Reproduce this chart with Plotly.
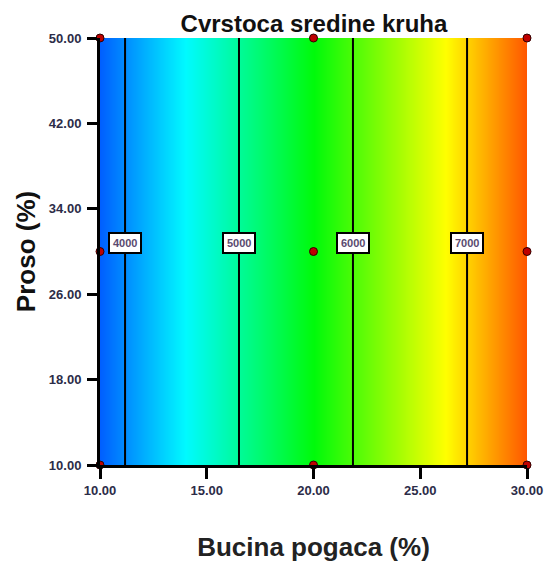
import numpy as np
import plotly.graph_objects as go

# Response surface: crumb firmness vs. pumpkin cake (x) and millet (y)
bucina = [10, 15, 20, 25, 30]
proso = [10, 30, 50]
cvrstoca_row = [3780, 4717, 5654, 6590, 7525]
cvrstoca = [cvrstoca_row for _ in proso]

levels = [4000, 5000, 6000, 7000]
label_y = 30.8

# Design points (center point replicated)
design_x = [10, 20, 30, 10, 20, 30, 10, 20, 30]
design_y = [10, 10, 10, 30, 30, 30, 50, 50, 50]

xticks = [10, 15, 20, 25, 30]
yticks = [10, 18, 26, 34, 42, 50]

colorscale = [
    [0.0, "rgb(0,95,255)"],
    [0.20, "rgb(0,250,255)"],
    [0.50, "rgb(0,250,10)"],
    [0.81, "rgb(255,255,0)"],
    [1.0, "rgb(255,85,0)"],
]

fig = go.Figure()
fig.add_trace(go.Contour(
    x=bucina, y=proso, z=cvrstoca,
    zauto=False, zmin=min(cvrstoca_row), zmax=max(cvrstoca_row),
    colorscale=colorscale, showscale=False,
    contours=dict(start=levels[0], end=levels[-1], size=1000, coloring="heatmap"),
    line=dict(color="black", width=2),
    hoverinfo="skip",
))
fig.add_trace(go.Scatter(
    x=design_x, y=design_y, mode="markers",
    marker=dict(color="rgb(190,0,0)", size=8, line=dict(color="rgb(50,0,0)", width=1)),
    cliponaxis=False, showlegend=False, hoverinfo="skip",
))

# Boxed contour level labels
for lv in levels:
    xpos = float(np.interp(lv, cvrstoca_row, bucina))
    fig.add_annotation(
        x=xpos, y=label_y, text=str(lv), showarrow=False,
        bgcolor="white", bordercolor="black", borderwidth=2, borderpad=3,
        font=dict(family="Arial", size=11, color="#5a4a70", weight="bold"),
    )

tickfont = dict(family="Arial", size=13, color="#2c2c48", weight="bold")
fig.update_xaxes(
    range=[10, 30], tickvals=xticks, ticktext=[f"{v:.2f}" for v in xticks],
    ticks="outside", ticklen=11, tickwidth=3, tickcolor="black",
    showline=True, linecolor="black", linewidth=3, showgrid=False, zeroline=False,
    tickfont=tickfont, ticklabeloverflow="allow", automargin=False,
    title=dict(text="Bucina pogaca (%)", font=dict(family="Arial", size=26, color="#222", weight="bold"), standoff=42),
)
fig.update_yaxes(
    range=[10, 50], tickvals=yticks, ticktext=[f"{v:.2f}" for v in yticks],
    ticks="outside", ticklen=10, tickwidth=3, tickcolor="black",
    showline=True, linecolor="black", linewidth=3, showgrid=False, zeroline=False,
    tickfont=tickfont, ticklabelstandoff=3, ticklabeloverflow="allow", automargin=False,
    title=dict(text="Proso (%)", font=dict(family="Arial", size=26, color="#111", weight="bold"), standoff=6),
)
fig.update_layout(
    width=546, height=571,
    margin=dict(l=100, r=19, t=38, b=106),
    paper_bgcolor="white", plot_bgcolor="white",
    title=dict(text="Cvrstoca sredine kruha", x=0.575, xanchor="center", y=0.958, yanchor="middle",
               font=dict(family="Arial", size=24, color="#111", weight="bold")),
    showlegend=False,
)
fig.write_html("out.html")
